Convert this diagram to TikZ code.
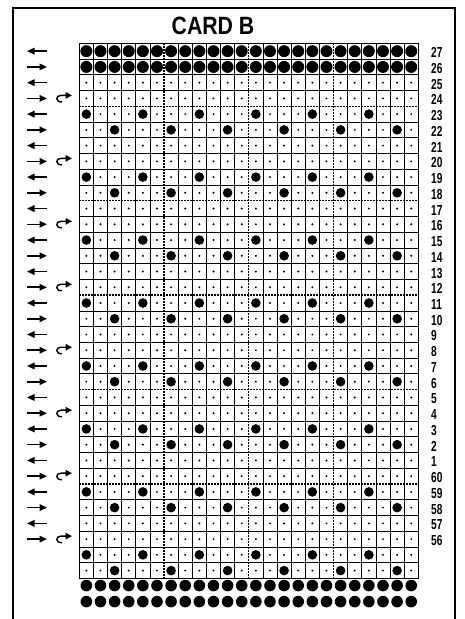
\documentclass[tikz,border=0pt]{standalone}
\usepackage{fontspec}
\newfontfamily\cardfont[FakeStretch=0.85]{Liberation Sans}
\newfontfamily\numfont[FakeStretch=0.7]{Liberation Sans}
\usetikzlibrary{arrows.meta}

\begin{document}
\begin{tikzpicture}[x=1pt,y=-1pt,
    gridline/.style={line width=.7pt},
    edgeline/.style={line width=1.2pt},
    dotline/.style={line width=1.3pt,dash pattern=on 1.3pt off 1.7pt},
    rowlab/.style={anchor=west,inner sep=0pt,font=\numfont\bfseries\fontsize{14.5}{15}\selectfont},
    dirarrow/.style={line width=1.6pt,-{Triangle[length=7.5pt,width=6.5pt]}},
    turnarrow/.style={line width=1.4pt,-{Triangle[length=6.5pt,width=6.5pt]}}]
        \useasboundingbox (0,0) rectangle (465,619);
        \draw[line width=1.4pt] (13,619) -- (13,8) -- (455,8) -- (455,619);
        \node (title) at (213,26) {\cardfont\bfseries\fontsize{25}{26}\selectfont CARD B};
        % the card grid, one unit per cell
        \begin{scope}[shift={(79.3,43.3)},x=14.125pt,y=-15.74pt]
            \foreach \c in {1,2,3,4,5,7,8,9,10,11,13,14,15,16,17,19,20,21,22,23}
                \draw[gridline] (\c,0) -- (\c,34);
            \foreach \r in {1,2,3,5,6,7,8,9,11,12,13,14,15,17,18,19,20,21,23,24,25,26,27,29,30,31,32,33}
                \draw[gridline] (0,\r) -- (24,\r);
            \foreach \c in {6,12,18}
                \draw[dotline] (\c,0) -- (\c,34);
            \foreach \r in {4,10,16,22,28}
                \draw[dotline] (0,\r) -- (24,\r);
            \draw[edgeline] (0,0) rectangle (24,34);
            \foreach \r in {0,...,33}
                \foreach \c in {0,...,23} {
                    \pgfmathtruncatemacro\pat{(\r>3)*((mod(\r,4)==0)*(mod(\c,4)==0)+(mod(\r,4)==1)*(mod(\c,4)==2))}
                    \ifnum\r<2
                        \fill (\c+.5,\r+.5) circle[radius=6pt];
                    \else\ifnum\pat=1
                        \fill (\c+.5,\r+.5) circle[radius=4.8pt];
                    \else
                        \fill (\c+.5,\r+.5) circle[radius=1.1pt];
                    \fi\fi
                }
            \foreach \c in {0,...,23} {
                \fill (\c+.5,34.45) circle[radius=5.8pt];
                \fill (\c+.5,35.47) circle[radius=5.8pt];
            }
        \end{scope}
        % row numbers and carriage directions
        \foreach \lab [count=\i from 0] in {27,26,...,1,60,59,...,56}
            \node[rowlab] (lab\lab) at (431,{44.8+(\i+.5)*15.74}) {\lab};
        \foreach \i in {0,...,31} {
            \pgfmathsetmacro\y{43.3+(\i+.5)*15.74}
            \ifodd\i
                \draw[dirarrow] (27,\y) -- (47,\y);
            \else
                \draw[dirarrow] (47,\y) -- (27,\y);
            \fi
            \pgfmathtruncatemacro\turn{mod(\i,4)==3}
            \ifnum\turn=1
                \draw[turnarrow] (62,\y+3.5) .. controls (55.5,\y+4) and (55,\y-3) .. (61,\y-3) -- (72,\y-3);
            \fi
        }
    \end{tikzpicture}
\end{document}
